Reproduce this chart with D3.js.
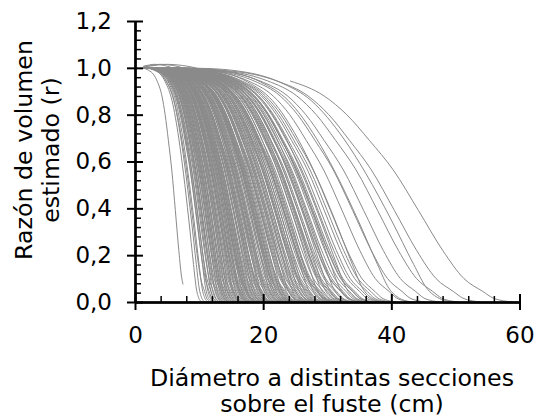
<!DOCTYPE html>
<html><head><meta charset="utf-8">
<script src="https://cdn.jsdelivr.net/npm/d3@7"></script>
<style>
body{margin:0;background:#fff}
svg{display:block}
</style>
</head><body><svg id="c" width="536" height="419"></svg>
<script>
// ---- data ----
const xTicks = [0, 20, 40, 60];
const xMinorTicks = [4, 8, 12, 16, 24, 28, 32, 36, 44, 48, 52, 56];
const yTicks = [0, 0.2, 0.4, 0.6, 0.8, 1.0, 1.2];
const yTickLabels = ["0,0", "0,2", "0,4", "0,6", "0,8", "1,0", "1,2"];
const yMinorTicks = [0.04,0.08,0.12,0.16,0.24,0.28,0.32,0.36,0.44,0.48,0.52,0.56,0.64,0.68,0.72,0.76,0.84,0.88,0.92,0.96,1.04,1.08,1.12,1.16];
const xTitle = ["Diámetro a distintas secciones", "sobre el fuste (cm)"];
const yTitle = ["Razón de volumen", "estimado (r)"];

// curve profiles: relative diameter (d / final diameter) vs ratio r
const gentleU = [0, 0.15, 0.25, 0.35, 0.41, 0.5, 0.56, 0.62, 0.683, 0.75, 0.814, 0.87, 0.92, 0.947, 0.975, 1.0];
const gentleR = [1, 0.999, 0.99, 0.97, 0.944, 0.88, 0.80, 0.69, 0.564, 0.39, 0.22, 0.10, 0.045, 0.017, 0.005, 0];
const steepU  = [0, 0.2, 0.3, 0.45, 0.55, 0.65, 0.72, 0.8, 0.87, 0.91, 0.95, 0.98, 1.0];
const steepR  = [1, 0.998, 0.99, 0.94, 0.86, 0.70, 0.55, 0.35, 0.16, 0.06, 0.015, 0.003, 0];
const bumpU   = [0, 0.08, 0.16, 0.24, 0.32, 0.41, 0.5, 0.56, 0.62, 0.683, 0.75, 0.814, 0.87, 0.92, 0.947, 1.0];
const bumpR   = [1, 1.008, 1.015, 1.01, 0.995, 0.95, 0.88, 0.80, 0.69, 0.564, 0.39, 0.22, 0.10, 0.045, 0.017, 0];

// diameter at which each tree's curve reaches r = 0 (all start at d = 1.3, r = 1)
const startDiam = 1.3;
const gentleD = [
 11.8, 12.6, 12.9, 13.3, 13.7, 13.9, 14.2, 14.5, 14.7, 14.9, 15.1, 15.3, 15.6, 15.8, 16.1,
 16.3, 16.6, 16.8, 17.0, 17.3, 17.5, 17.7, 17.9, 18.0, 18.2, 18.4, 18.7, 18.9, 19.1, 19.3,
 19.5, 19.7, 19.9, 20.1, 20.4, 20.6, 20.9, 21.1, 21.3, 21.5, 21.6, 22.0, 22.3, 22.5, 22.7,
 22.9, 23.1, 23.4, 23.7, 23.9, 24.2, 24.4, 24.7, 24.9, 25.1, 25.3, 25.5, 26.0, 26.2, 26.4,
 26.6, 27.0, 27.2, 27.5, 27.8, 28.0, 28.3, 28.6, 29.0, 29.2, 29.4, 29.7, 30.1, 30.5, 30.8,
 31.0, 31.3, 31.5, 32.0, 32.6, 32.9, 33.1, 33.4, 33.9, 34.2, 34.9, 35.0, 35.3, 35.8, 36.4,
 36.9, 37.0, 37.3, 38.1, 38.6, 39.4, 40.0, 40.7, 43.1, 45.3, 47.6, 50.5, 54.0
];
const steepD = [
 10.5, 11.0, 11.5, 12.1, 12.4, 12.9, 13.2, 13.6, 14.0, 14.4, 14.7, 15.0, 15.4, 15.7, 16.0,
 16.5, 16.7, 17.1, 17.6, 17.8, 18.2, 18.5, 18.8, 19.1, 19.6, 20.0, 20.3, 20.8, 21.2, 21.4,
 21.9, 22.2, 22.9, 23.3, 23.6, 24.0, 24.6, 25.0, 25.7, 26.1, 26.8, 27.3, 27.9, 28.4, 28.8,
 29.6, 30.3, 31.1, 31.8, 32.4, 33.2, 34.0, 35.1, 36.2, 39.0, 43.5, 50.0
];
const bumpD = [19.0, 24.5, 31.0];
// curves drawn over a partial range (gentle profile)
const partialD = [59, 8.4];
const partialFrom = [24.2, 1.3];
const partialTo = [59, 7.5];

// ---- chart ----
const svg = d3.select("#c");
const font = '"DejaVu Sans", Verdana, sans-serif';
const x = d3.scaleLinear().domain([0, 60]).range([135, 519.5]);
const y = d3.scaleLinear().domain([0, 1.2]).range([302, 21]);

function curvePoints(D, from, to, U, R) {
  const prof = d3.scaleLinear().domain(U).range(R).clamp(true);
  const pts = [[from, prof(from / D)]];
  U.forEach((u, i) => {
    const d = u * D;
    if (d > from + 0.05 && d < to - 0.05) pts.push([d, R[i]]);
  });
  pts.push([to, prof(to / D)]);
  return pts;
}
const line = d3.line().x(p => x(p[0])).y(p => y(p[1])).curve(d3.curveMonotoneX);

const series = []
  .concat(gentleD.map(D => curvePoints(D, startDiam, D, gentleU, gentleR)))
  .concat(steepD.map(D => curvePoints(D, startDiam, D, steepU, steepR)))
  .concat(bumpD.map(D => curvePoints(D, startDiam, D, bumpU, bumpR)))
  .concat(partialD.map((D, i) => curvePoints(D, partialFrom[i], partialTo[i], gentleU, gentleR)));

svg.append("g").selectAll("path").data(series).join("path")
  .attr("d", line).attr("fill", "none").attr("stroke", "#8a8a8a").attr("stroke-width", 1);

// axes
function styleAxis(g, w) {
  g.select(".domain").attr("stroke", "#000").attr("stroke-width", 2);
  g.selectAll(".tick line").attr("stroke", "#000").attr("stroke-width", w);
  g.selectAll("text").attr("font-family", font).attr("font-size", 23).attr("fill", "#000");
  g.attr("font-family", null).attr("font-size", null);
}
const x0 = y(0), y0 = x(0);
svg.append("g").attr("transform", `translate(0,${x0})`)
  .call(d3.axisTop(x).tickValues(xMinorTicks).tickSize(6).tickFormat("").tickSizeOuter(0))
  .call(g => styleAxis(g, 1.5));
svg.append("g").attr("transform", `translate(0,${x0})`)
  .call(d3.axisTop(x).tickValues(xTicks).tickSize(8).tickFormat("").tickSizeOuter(0))
  .call(g => styleAxis(g, 2));
svg.append("g").attr("transform", `translate(0,${x0})`)
  .call(d3.axisBottom(x).tickValues(xTicks).tickSize(8).tickPadding(17).tickSizeOuter(0).tickFormat(d3.format("d")))
  .call(g => styleAxis(g, 2));

svg.append("g").attr("transform", `translate(${y0},0)`)
  .call(d3.axisRight(y).tickValues(yMinorTicks).tickSize(6).tickFormat("").tickSizeOuter(0))
  .call(g => styleAxis(g, 1.5));
svg.append("g").attr("transform", `translate(${y0},0)`)
  .call(d3.axisRight(y).tickValues(yTicks).tickSize(8).tickFormat("").tickSizeOuter(0))
  .call(g => styleAxis(g, 2));
svg.append("g").attr("transform", `translate(${y0},0)`)
  .call(d3.axisLeft(y).tickValues(yTicks).tickSize(8).tickPadding(15).tickSizeOuter(0)
    .tickFormat((d, i) => yTickLabels[i]))
  .call(g => styleAxis(g, 2));

// titles
svg.append("g").selectAll("text").data(xTitle).join("text")
  .attr("x", 332).attr("y", (d, i) => 386 + i * 26)
  .attr("text-anchor", "middle").attr("font-family", font).attr("font-size", 23.7).attr("fill", "#000")
  .text(d => d);
svg.append("g").selectAll("text").data(yTitle).join("text")
  .attr("transform", (d, i) => `translate(${32 + i * 27},150) rotate(-90)`)
  .attr("text-anchor", "middle").attr("font-family", font).attr("font-size", 23.7).attr("fill", "#000")
  .text(d => d);
</script>
</body></html>
